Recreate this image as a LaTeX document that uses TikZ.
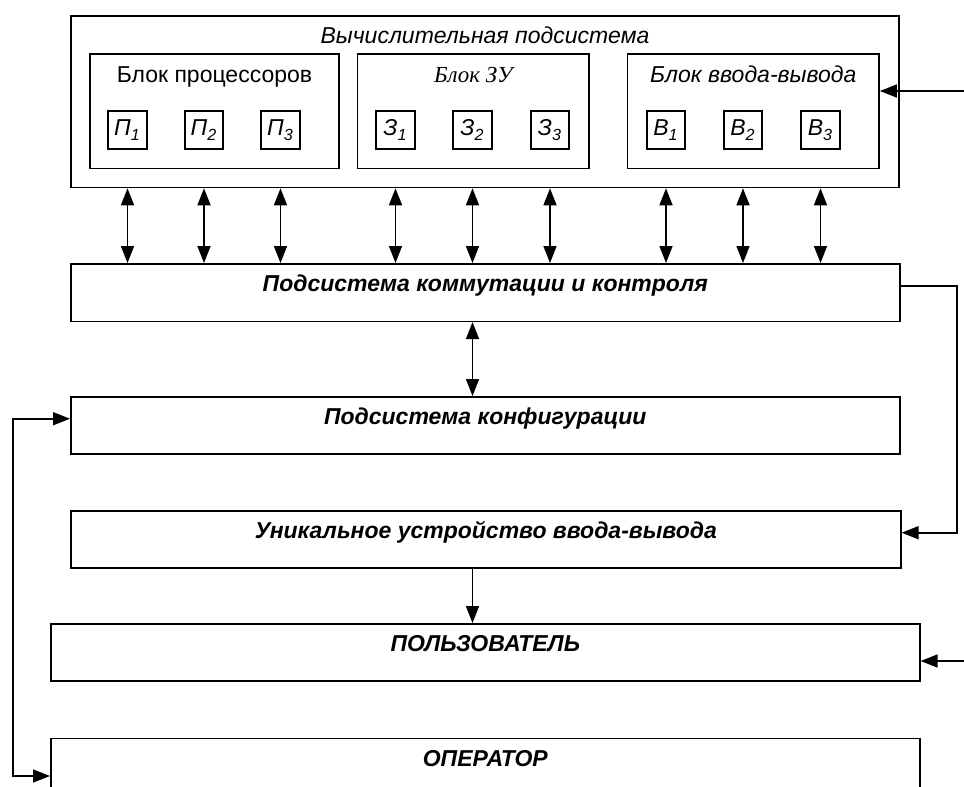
\documentclass[tikz,border=0pt]{standalone}
\usepackage{fontspec}
\setmainfont{Liberation Sans}[Scale=1.15]
\newfontfamily\zufont{Liberation Serif}[Scale=1.15]
\usetikzlibrary{arrows.meta}

\begin{document}
\begin{tikzpicture}[x=1pt,y=-1pt,>={Triangle[length=8.5pt,width=6.5pt]}]
  % Styles
  \tikzstyle{frame}=[draw,line width=0.8pt,inner xsep=0pt,inner ysep=0pt,text height=14pt,anchor=north west]
  \tikzstyle{cell}=[draw,line width=0.8pt,minimum size=19.25pt,inner sep=0pt,font=\itshape]
  \tikzstyle{panel}=[frame,font=\bfseries\itshape,text depth=14.5pt]
  \tikzstyle{link}=[line width=0.8pt]

  \useasboundingbox (0,0) rectangle (482,393.5);

  % Computing subsystem
  \node[frame,minimum width=414.15pt,text depth=71.85pt,font=\itshape] (cs) at (35,7.5) {Вычислительная подсистема};
  \node[frame,minimum width=124.65pt,text depth=43.2pt] (proc) at (44.5,26.65) {Блок процессоров};
  \node[frame,minimum width=115.8pt,text depth=43.2pt,font=\zufont\itshape] (mem) at (178.35,26.65) {Блок ЗУ};
  \node[frame,minimum width=125.8pt,text depth=43.2pt,font=\itshape] (io) at (313.35,26.65) {Блок ввода-вывода};

  \foreach \n/\x/\l/\s in {p1/63.75/П/1,p2/102/П/2,p3/140.25/П/3,
                           m1/197.75/З/1,m2/236.25/З/2,m3/275/З/3,
                           v1/333/В/1,v2/371.5/В/2,v3/410.25/В/3}
    \node[cell] (\n) at (\x,65) {\l\textsubscript{\s}};

  % Lower subsystems
  \node[panel,minimum width=414.5pt,text depth=14.75pt] (comm) at (35,131.5) {Подсистема коммутации и контроля};
  \node[panel,minimum width=414.5pt] (conf) at (35,198) {Подсистема конфигурации};
  \node[panel,minimum width=415pt] (uniq) at (35,255) {Уникальное устройство ввода-вывода};
  \node[panel,minimum width=434.5pt] (user) at (25,311.5) {ПОЛЬЗОВАТЕЛЬ};
  \node[panel,minimum width=434.5pt,text depth=30pt] (oper) at (25,368.75) {ОПЕРАТОР};

  % Connections
  \foreach \n in {p1,p2,p3,m1,m2,m3,v1,v2,v3}
    \draw[link,<->] (\n |- cs.south) -- (\n |- comm.north);
  \draw[link,<->] (m2 |- comm.south) -- (m2 |- conf.north);
  \draw[link,->] (m2 |- uniq.south) -- (m2 |- user.north);

  \coordinate (ioin) at (482,45.5);
  \coordinate (uin) at (482,330.5);
  \coordinate (rline) at (478.5,0);
  \coordinate (lline) at (6.35,0);
  \draw[link,->] (ioin) -- (ioin -| io.east);
  \draw[link,->] (uin) -- (uin -| user.east);
  \draw[link,->] (comm.mid east) -- (comm.mid east -| rline) |- (uniq.mid east);
  \draw[link,<->] (conf.mid west) -- (conf.mid west -| lline) |- ([yshift=-19.25pt]oper.north west);
\end{tikzpicture}
\end{document}
